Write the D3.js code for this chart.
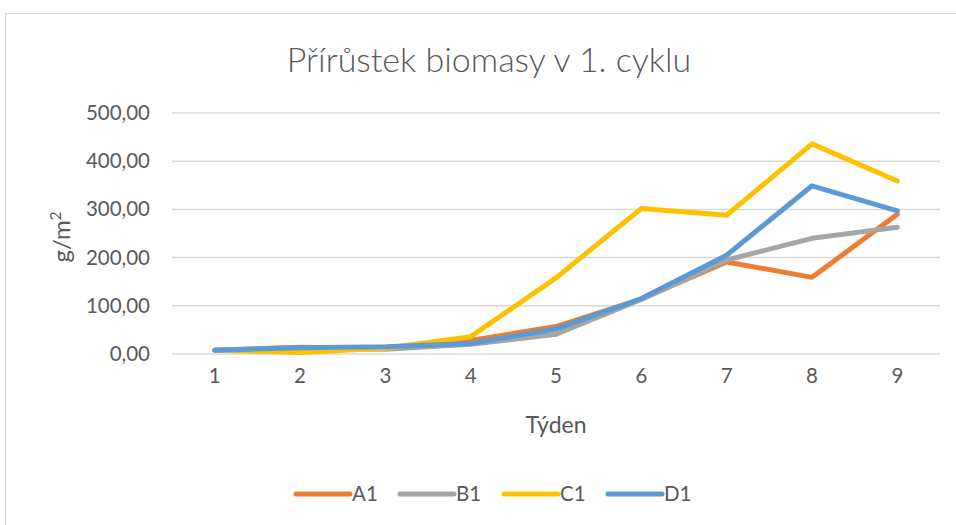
<!DOCTYPE html>
<html>
<head>
<meta charset="utf-8">
<script src="https://cdn.jsdelivr.net/npm/d3@7"></script>
<style>
  body { margin: 0; background: #fff; }
  text { font-family: Lato, "Open Sans", sans-serif; fill: #595959; }
</style>
</head>
<body>
<svg id="chart" width="956" height="525"></svg>
<script>
const weeks = [1, 2, 3, 4, 5, 6, 7, 8, 9];
const seriesNames = ["A1", "B1", "C1", "D1"];
const colors = ["#ED7D31", "#A5A5A5", "#FFC000", "#5B9BD5"];
const valuesA1 = [8, 14, 12, 28, 57, 114, 191, 159, 290];
const valuesB1 = [8, 12, 10, 20, 41, 113, 195, 240, 263];
const valuesC1 = [8, 3, 12, 36, 158, 302, 288, 436, 359];
const valuesD1 = [8, 13, 15, 22, 52, 115, 205, 349, 297];
const yTicks = [0, 100, 200, 300, 400, 500];

const series = [valuesA1, valuesB1, valuesC1, valuesD1].map((vals, i) => ({
    name: seriesNames[i], color: colors[i], values: vals
}));

const svg = d3.select("#chart");
const margin = { top: 113, right: 16, bottom: 171, left: 172 },
    width = 956 - margin.left - margin.right,
    height = 525 - margin.top - margin.bottom;

// outer chart border
svg.append("rect")
    .attr("x", 5.5).attr("y", 13.5)
    .attr("width", 960).attr("height", 530)
    .attr("fill", "none").attr("stroke", "#d9d9d9");

const g = svg.append("g").attr("transform", `translate(${margin.left},${margin.top})`);

const x = d3.scaleBand().domain(weeks).range([0, width]);
const y = d3.scaleLinear().domain([0, 500]).range([height, 0]);
const fmt = d3.formatLocale({ decimal: ",", thousands: " ", grouping: [3], currency: ["", ""] }).format(".2f");

// gridlines
g.selectAll("line.grid")
    .data(yTicks)
    .enter().append("line")
    .attr("x1", 0).attr("x2", width)
    .attr("y1", d => y(d)).attr("y2", d => y(d))
    .attr("stroke", "#d9d9d9").attr("stroke-width", 1.5);

// Y axis labels
const yAxis = g.append("g")
    .call(d3.axisLeft(y).tickValues(yTicks).tickFormat(fmt).tickSize(0).tickPadding(22));
yAxis.select(".domain").remove();
yAxis.selectAll("text").style("font-size", "20.5px").attr("fill", "#595959");

// X axis labels
const xAxis = g.append("g")
    .attr("transform", `translate(0,${height})`)
    .call(d3.axisBottom(x).tickSize(0).tickPadding(14));
xAxis.select(".domain").remove();
xAxis.selectAll("text").style("font-size", "20.5px").attr("fill", "#595959");

// lines
const line = d3.line()
    .x((d, i) => x(weeks[i]) + x.bandwidth() / 2)
    .y(d => y(d));

g.selectAll("path.series")
    .data(series)
    .enter().append("path")
    .attr("d", d => line(d.values))
    .attr("fill", "none")
    .attr("stroke", d => d.color)
    .attr("stroke-width", 5)
    .attr("stroke-linecap", "round")
    .attr("stroke-linejoin", "round");

// title
svg.append("text")
    .attr("x", 489).attr("y", 72)
    .attr("text-anchor", "middle")
    .style("font-size", "34px")
    .style("font-weight", 300)
    .text("Přírůstek biomasy v 1. cyklu");

// axis titles
svg.append("text")
    .attr("x", 556).attr("y", 433)
    .attr("text-anchor", "middle")
    .style("font-size", "23px")
    .text("Týden");

const yt = svg.append("text")
    .attr("transform", "translate(70,237) rotate(-90)")
    .attr("text-anchor", "middle")
    .style("font-size", "24px");
yt.append("tspan").text("g/m");
yt.append("tspan").attr("dy", -9).style("font-size", "15px").text("2");

// legend
const legendX = [294, 398, 502, 606];
const legend = svg.selectAll("g.legend")
    .data(series)
    .enter().append("g")
    .attr("transform", (d, i) => `translate(${legendX[i]},494)`);
legend.append("line")
    .attr("x1", 2).attr("x2", 56)
    .attr("stroke", d => d.color)
    .attr("stroke-width", 5)
    .attr("stroke-linecap", "round");
legend.append("text")
    .attr("x", 58).attr("y", 7)
    .style("font-size", "20.5px")
    .text(d => d.name);
</script>
</body>
</html>
